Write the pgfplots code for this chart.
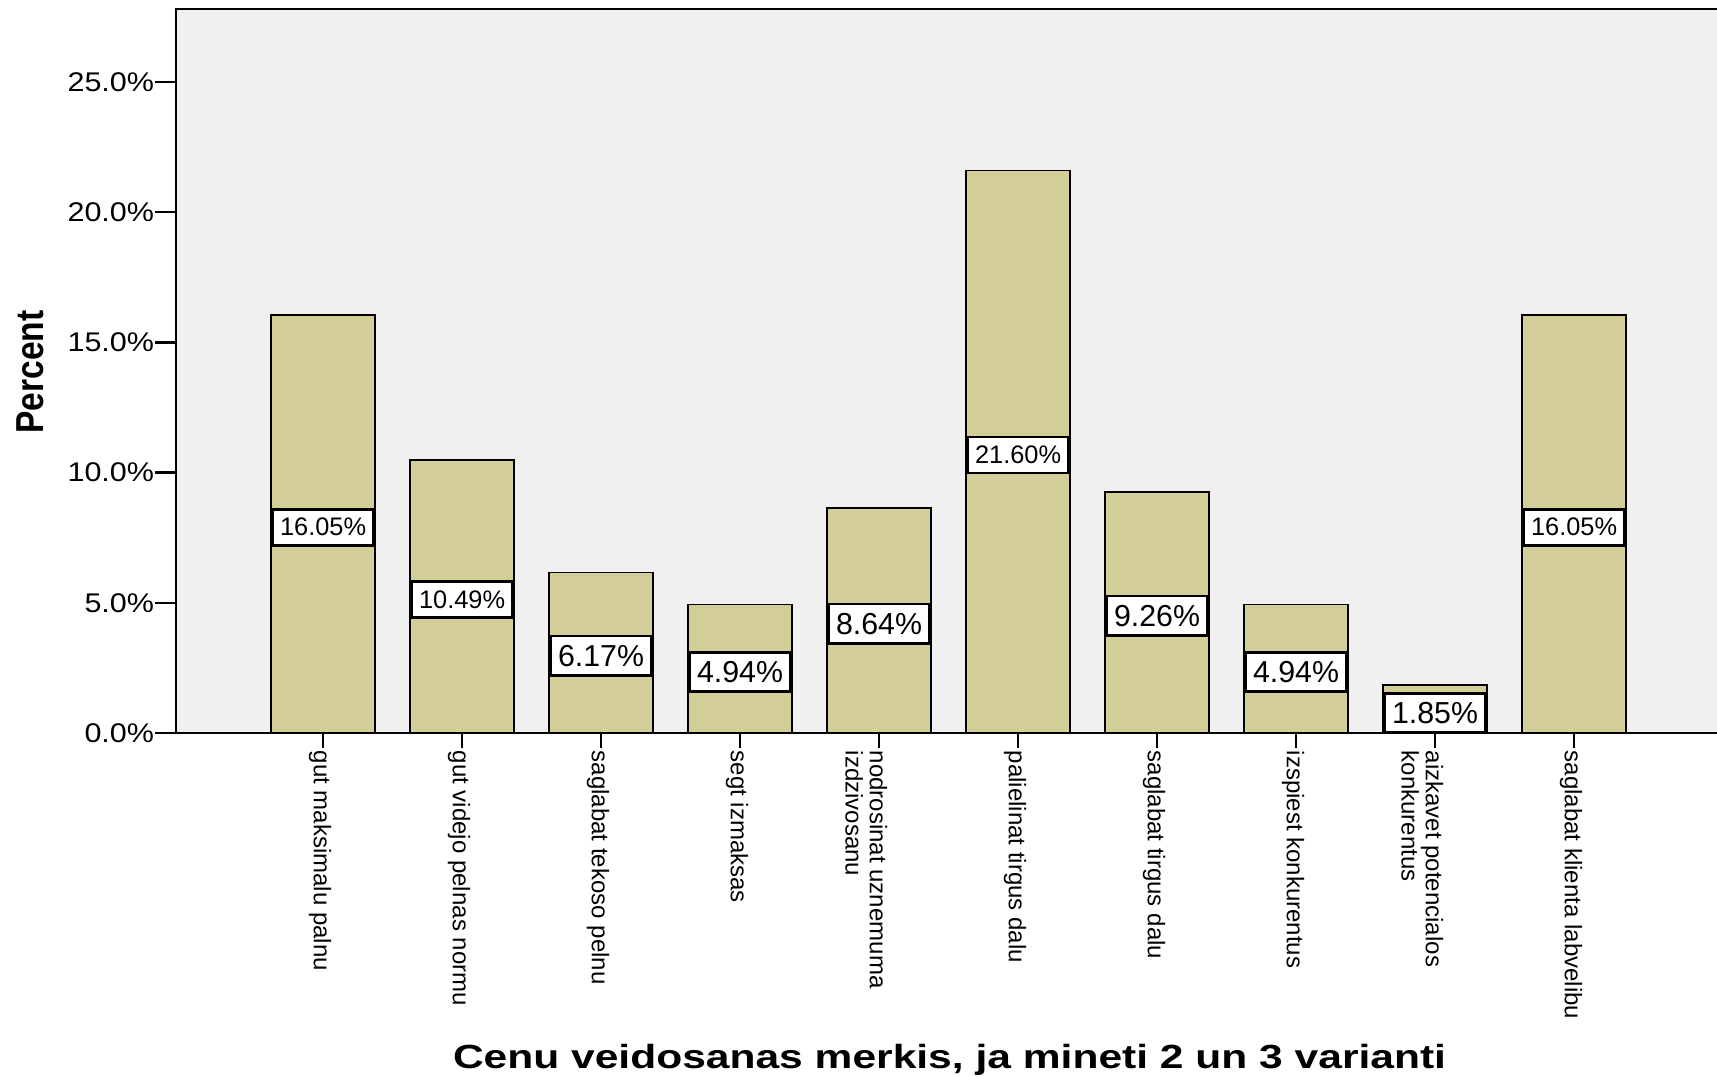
\documentclass[border=0pt]{standalone}
\usepackage{pgfplots}
\pgfplotsset{compat=1.18}
\usepackage{pgfplotstable}
\usepackage{fontspec}
\setmainfont{Liberation Sans}
\newfontfamily\titlefont[FakeStretch=1.27]{Liberation Sans}
\newfontfamily\ylabfont[FakeStretch=0.86]{Liberation Sans}
\newfontfamily\tickfont[FakeStretch=1.13]{Liberation Sans}
\usepackage{graphicx}
\definecolor{bg}{HTML}{F0F0F0}
\definecolor{barcol}{HTML}{D3CE97}

\pgfplotstableread{
x y ly lab
0 16.05 7.90 16.05
1 10.49 5.12 10.49
2 6.17 2.96 6.17
3 4.94 2.34 4.94
4 8.64 4.19 8.64
5 21.60 10.67 21.60
6 9.26 4.50 9.26
7 4.94 2.34 4.94
8 1.85 0.77 1.85
9 16.05 7.90 16.05
}\datatable

\begin{document}
\begin{tikzpicture}
\useasboundingbox (0,0) rectangle (858.5pt,538pt);
\begin{axis}[
  at={(88pt,171.5pt)}, anchor=south west,
  scale only axis, width=772pt, height=362pt,
  xmin=-1.058, xmax=10.05, ymin=0, ymax=27.8,
  axis background/.style={fill=bg},
  axis line style={line width=1.2pt, black},
  tick align=outside, xtick pos=bottom, ytick pos=left,
  tick style={line width=1.2pt, black},
  xtick style={/pgfplots/major tick length=7.5pt},
  ytick style={/pgfplots/major tick length=10.5pt},
  xtick={0,1,2,3,4,5,6,7,8,9},
  xticklabels={{gut maksimalu palnu},{gut videjo pelnas normu},{saglabat tekoso pelnu},{segt izmaksas},{\begin{tabular}[t]{@{}l@{}}nodrosinat uznemuma\\izdzivosanu\end{tabular}},{palielinat tirgus dalu},{saglabat tirgus dalu},{izspiest konkurentus},{\begin{tabular}[t]{@{}l@{}}aizkavet potencialos\\konkurentus\end{tabular}},{saglabat klienta labvelibu}},
  xticklabel style={yshift=-4.5pt, xshift=-2pt, rotate=-90, anchor=mid west, inner sep=0pt, font=\fontsize{12}{11.2}\selectfont},
  ytick={0,5,10,15,20,25},
  yticklabels={0.0\%,5.0\%,10.0\%,15.0\%,20.0\%,25.0\%},
  yticklabel style={xshift=-5.5pt, font=\tickfont\fontsize{13.5}{16}\selectfont, inner sep=1pt},
  xlabel={Cenu veidosanas merkis, ja mineti 2 un 3 varianti},
  xlabel style={at={(axis description cs:0.501,-0.4627)}, anchor=base, font=\titlefont\bfseries\fontsize{16.75}{20}\selectfont},
  ylabel={Percent},
  ylabel style={at={(axis description cs:-0.0946,0.4986)}, anchor=center, rotate=0, font=\ylabfont\bfseries\fontsize{19.5}{22}\selectfont},
]
\addplot[ybar, bar width=52pt, fill=barcol, draw=black, line width=0.8pt] table[x=x, y=y]{\datatable};
\addplot[draw=none, mark=none, forget plot, point meta=explicit symbolic,
  nodes near coords={\resizebox{43pt}{!}{\pgfplotspointmeta\%}},
  every node near coord/.append style={draw=black, fill=white, text=black, line width=1.3pt, inner xsep=3.5pt, inner ysep=4.5pt, anchor=center}]
  table[x=x, y=ly, meta=lab]{\datatable};
\end{axis}
\end{tikzpicture}
\end{document}
